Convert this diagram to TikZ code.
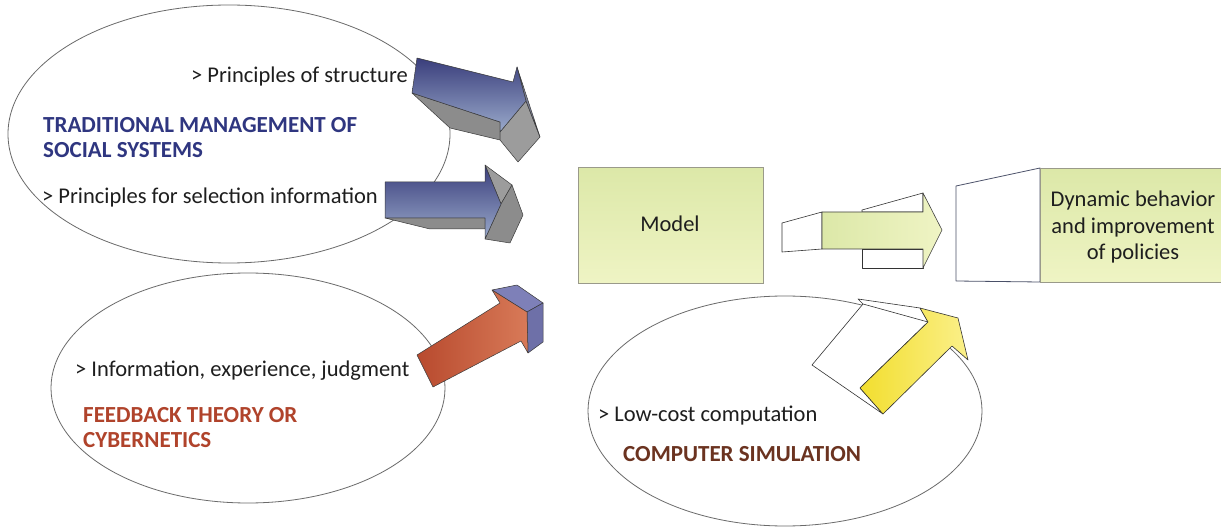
\documentclass[tikz,border=0pt]{standalone}
\usepackage{fontspec}
\setmainfont{Carlito}
\usetikzlibrary{shapes.geometric}
\definecolor{ellgray}{HTML}{6A6A6A}
\definecolor{tradblue}{HTML}{2F3680}
\definecolor{fbred}{HTML}{B0432B}
\definecolor{simbrown}{HTML}{6B3320}
\definecolor{txtdark}{HTML}{1E1E1E}
\definecolor{bluetop}{HTML}{3A3E7C}
\definecolor{bluebot}{HTML}{9AAACB}
\definecolor{grayface}{HTML}{8C8C8C}
\definecolor{grayface2}{HTML}{9C9C9C}
\definecolor{graystrip}{HTML}{7C8096}
\definecolor{edgecol}{HTML}{3A3A3A}
\definecolor{redl}{HTML}{B84A2E}
\definecolor{redr}{HTML}{D87A58}
\definecolor{purp}{HTML}{7E80B8}
\definecolor{purp2}{HTML}{6E70A8}
\definecolor{yel1}{HTML}{F2DE2E}
\definecolor{yel2}{HTML}{FBF08A}
\definecolor{grn1}{HTML}{DCE8A8}
\definecolor{grn2}{HTML}{EFF4C4}
\definecolor{boxedge}{HTML}{9A9A8A}
\definecolor{dynedge}{HTML}{4A5068}
\begin{document}
\begin{tikzpicture}[x=1pt,y=-1pt,
  oval/.style={draw=ellgray, line width=0.8pt, ellipse, inner sep=0pt},
  lbl/.style={inner sep=0pt, font=\fontsize{22.5}{26.5}\selectfont, text=txtdark},
  ttl/.style={inner sep=0pt, font=\fontsize{23}{25.5}\selectfont\bfseries, align=left},
  grayside/.style={fill=grayface, draw=edgecol, line width=0.5pt, line join=round},
  grayside2/.style={fill=grayface2, draw=edgecol, line width=0.5pt, line join=round},
  graystripe/.style={fill=graystrip, draw=edgecol, line width=0.5pt, line join=round},
  bluefront/.style={top color=bluetop, bottom color=bluebot, draw=edgecol, line width=0.5pt, line join=round},
  redfront/.style={left color=redl, right color=redr, draw=edgecol, line width=0.5pt, line join=round},
  purpside/.style={fill=purp, draw=edgecol, line width=0.5pt, line join=round},
  purpside2/.style={fill=purp2, draw=edgecol, line width=0.5pt, line join=round},
  whiteside/.style={fill=white, draw=black!80, line width=0.6pt, line join=round},
  yelfront/.style={left color=yel1, right color=yel2, draw=black!80, line width=0.6pt, line join=round},
  grnfront/.style={left color=grn1, right color=grn2, draw=black!75, line width=0.6pt, line join=round},
  greenbox/.style={draw=boxedge, line width=0.6pt, top color=grn1, bottom color=grn2, inner sep=0pt, anchor=north west}
]
\useasboundingbox (0,0) rectangle (1221,529);
\fill[white] (0,0) rectangle (1221,529);

% ellipses
\node[oval, minimum width=442pt, minimum height=258pt] (e1) at (229,134) {};
\node[oval, minimum width=394pt, minimum height=230pt] (e2) at (248,388) {};
\node[oval, minimum width=394pt, minimum height=230pt] (e3) at (785,411) {};

% top blue arrow
\path[grayside] (412,93) -- (450,128) -- (500,140) -- (500,122) -- cycle;
\path[grayside2] (500,132) -- (526,101) -- (540,137) -- (518,162) -- (500,140) -- cycle;
\path[graystripe] (517,67) -- (540,137) -- (526,101) -- cycle;
\path[bluefront] (417,58) -- (513,82) -- (517,67) -- (526,101) -- (500,132) -- (500,122) -- (412,93) -- cycle;

% middle blue arrow
\path[grayside] (385,218) -- (430,229) -- (485,229) -- (485,218) -- cycle;
\path[grayside2] (485,165) -- (512,185) -- (501,204) -- cycle;
\path[grayside] (501,204) -- (512,185) -- (523,215) -- (510,243) -- (485,239) -- cycle;
\path[bluefront] (385,182) -- (485,182) -- (485,165) -- (501,204) -- (485,239) -- (485,218) -- (385,218) -- cycle;

% red arrow
\path[purpside] (492,290) -- (517,285) -- (543,303) -- (527,312) -- cycle;
\path[purpside2] (527,312) -- (543,303) -- (543,342) -- (528,353) -- cycle;
\path[redfront] (417,355) -- (500,303) -- (492,290) -- (527,312) -- (528,353) -- (521,341) -- (433,387) -- cycle;

% model box
\node[greenbox, minimum width=185pt, minimum height=116pt] (model) at (578,167) {};

% green arrow
\path[whiteside] (782,223) -- (822,212) -- (822,249) -- (782,252) -- cycle;
\path[whiteside] (862,210) -- (923,193) -- (923,212) -- (862,212) -- cycle;
\path[whiteside] (862,249) -- (923,249) -- (923,268) -- (862,268) -- cycle;
\path[grnfront] (822,212) -- (923,212) -- (923,193) -- (942,230) -- (923,268) -- (923,249) -- (822,249) -- cycle;

% dynamic box
\path[fill=white, draw=dynedge, line width=0.8pt, line join=round] (956,186) -- (1040,168) -- (1040,282) -- (956,281) -- cycle;
\node[greenbox, minimum width=184pt, minimum height=114pt] (dyn) at (1040,168) {};

% yellow arrow
\path[whiteside] (812,365) -- (863,304) -- (858,299) -- (920,308) -- (928,322) -- (860,388) -- (883,414) -- cycle;
\draw[black!80, line width=0.6pt] (863,304) -- (928,322);
\path[yelfront] (860,388) -- (928,322) -- (920,308) -- (958,318) -- (968,360) -- (952,346) -- (883,414) -- cycle;

% texts
\node[lbl, anchor=base east] (t1) at (408,83) {> Principles of structure};
\node[ttl, text=tradblue, anchor=north west] (t2) at (43,117) {TRADITIONAL MANAGEMENT OF\\SOCIAL SYSTEMS};
\node[lbl, anchor=base west] (t3) at (42,204) {> Principles for selection information};
\node[lbl, anchor=base west] (t4) at (75,377) {> Information, experience, judgment};
\node[ttl, text=fbred, anchor=north west] (t5) at (83,407) {FEEDBACK THEORY OR\\CYBERNETICS};
\node[lbl, anchor=base west] (t6) at (598,421) {> Low-cost computation};
\node[ttl, text=simbrown, anchor=base west] (t7) at (623,461) {COMPUTER SIMULATION};
\node[lbl, anchor=base] (t8) at (670,232) {Model};
\node[lbl, align=center, anchor=north] (t9) at (1133,191) {Dynamic behavior\\and improvement\\of policies};
\end{tikzpicture}
\end{document}
